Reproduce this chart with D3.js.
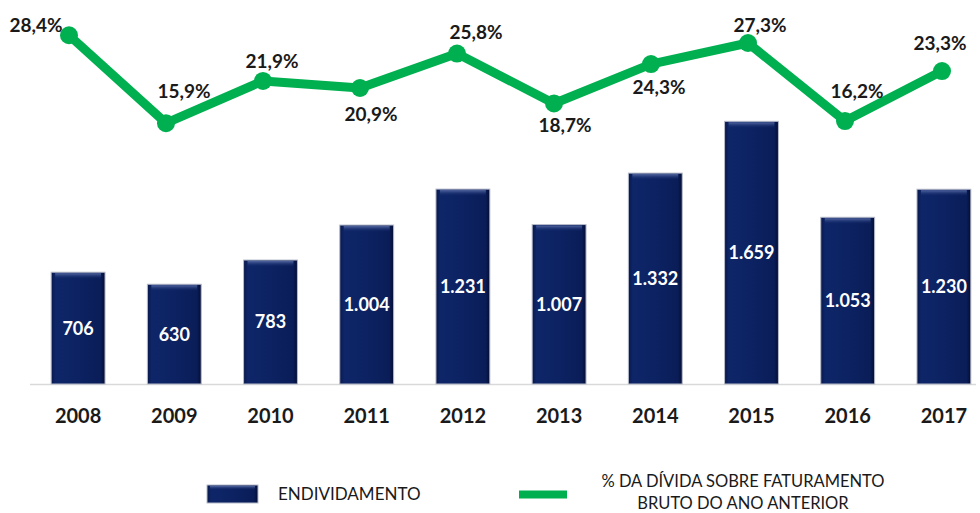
<!DOCTYPE html>
<html>
<head>
<meta charset="utf-8">
<script src="https://cdn.jsdelivr.net/npm/d3@7"></script>
<style>
  html, body { margin: 0; padding: 0; background: #fff; }
  svg { display: block; font-family: Lato, "Open Sans", sans-serif; }
</style>
</head>
<body>
<svg id="chart" width="980" height="513"></svg>
<script>
// ---- data ----
const years = ["2008","2009","2010","2011","2012","2013","2014","2015","2016","2017"];
const endividamento = [706, 630, 783, 1004, 1231, 1007, 1332, 1659, 1053, 1230];
const pctDivida = [28.4, 15.9, 21.9, 20.9, 25.8, 18.7, 24.3, 27.3, 16.2, 23.3];
const legendBar = "ENDIVIDAMENTO";
const legendLine = ["% DA DÍVIDA SOBRE FATURAMENTO", "BRUTO DO ANO ANTERIOR"];

// ---- layout (not data) ----
const labelOffsets = [[-33,-10],[18,-32],[9,-20],[11,26],[19,-21],[11,22],[8,23],[12,-18],[12,-30],[-2,-28]];

const svg = d3.select("#chart");
const loc = d3.formatLocale({decimal: ",", thousands: ".", grouping: [3], currency: ["R$", ""]});
const fmtInt = loc.format(",d");
const fmtPct = v => loc.format(".1f")(v) + "%";

const x = d3.scaleBand().domain(years).range([30, 992]).paddingInner(0.44).paddingOuter(0.22);
const xl = d3.scalePoint().domain(years).range([69, 942]);
const y = d3.scaleLinear().domain([0, 1800]).range([384, 99]);
const yl = d3.scaleLinear().domain([0, 30]).range([235, 24]);

// gradients
const defs = svg.append("defs");
const g1 = defs.append("linearGradient").attr("id", "barH").attr("x1", 0).attr("x2", 1).attr("y1", 0).attr("y2", 0);
[[0, "#08174a"], [0.08, "#0e2668"], [0.5, "#0c2262"], [0.92, "#0a1d58"], [1, "#040d32"]].forEach(s =>
  g1.append("stop").attr("offset", s[0]).attr("stop-color", s[1]));
const g2 = defs.append("linearGradient").attr("id", "barTop").attr("x1", 0).attr("x2", 0).attr("y1", 0).attr("y2", 1);
[[0, "#5b6fa8", 0.9], [1, "#0d2466", 0]].forEach(s =>
  g2.append("stop").attr("offset", s[0]).attr("stop-color", s[1]).attr("stop-opacity", s[2]));

// baseline
svg.append("line").attr("x1", 30).attr("x2", 976).attr("y1", y(0) + 0.5).attr("y2", y(0) + 0.5)
  .attr("stroke", "#d9d9d9").attr("stroke-width", 1.5);

// bars
const bars = svg.append("g").selectAll("g").data(years).join("g");
bars.append("rect")
  .attr("x", d => x(d)).attr("width", x.bandwidth())
  .attr("y", (d, i) => y(endividamento[i])).attr("height", (d, i) => y(0) - y(endividamento[i]))
  .attr("fill", "url(#barH)").attr("stroke", "#b8bccb").attr("stroke-width", 1);
bars.append("rect")
  .attr("x", d => x(d) + 4).attr("width", x.bandwidth() - 8)
  .attr("y", (d, i) => y(endividamento[i]) + 1).attr("height", 6)
  .attr("fill", "url(#barTop)");
bars.append("text")
  .attr("x", d => x(d) + x.bandwidth() / 2)
  .attr("y", (d, i) => (y(endividamento[i]) + y(0)) / 2)
  .attr("dy", "0.36em").attr("text-anchor", "middle")
  .attr("fill", "#fff").attr("font-weight", 700).attr("font-size", 18)
  .text((d, i) => fmtInt(endividamento[i]));

// year labels
svg.append("g").selectAll("text").data(years).join("text")
  .attr("x", d => x(d) + x.bandwidth() / 2).attr("y", 416).attr("dy", "0.36em")
  .attr("text-anchor", "middle").attr("font-weight", 700).attr("font-size", 20).attr("fill", "#1a1a1a")
  .text(d => d);

// line
const line = d3.line().x((d, i) => xl(years[i])).y(d => yl(d));
svg.append("path").datum(pctDivida).attr("d", line)
  .attr("fill", "none").attr("stroke", "#00b050").attr("stroke-width", 9).attr("stroke-linejoin", "round");
svg.append("g").selectAll("circle").data(pctDivida).join("circle")
  .attr("cx", (d, i) => xl(years[i])).attr("cy", d => yl(d)).attr("r", 9).attr("fill", "#00b050");
svg.append("g").selectAll("text").data(pctDivida).join("text")
  .attr("x", (d, i) => xl(years[i]) + labelOffsets[i][0])
  .attr("y", (d, i) => yl(d) + labelOffsets[i][1]).attr("dy", "0.36em")
  .attr("text-anchor", "middle").attr("font-weight", 700).attr("font-size", 19).attr("fill", "#1a1a1a")
  .text(d => fmtPct(d));

// legend
const lg = svg.append("g");
lg.append("rect").attr("x", 207).attr("y", 485).attr("width", 51).attr("height", 18)
  .attr("fill", "url(#barH)").attr("stroke", "#b8bccb");
lg.append("rect").attr("x", 210).attr("y", 486).attr("width", 45).attr("height", 4).attr("fill", "url(#barTop)");
lg.append("text").attr("x", 278).attr("y", 494).attr("dy", "0.36em")
  .attr("font-size", 17).attr("fill", "#1a1a1a").text(legendBar);
lg.append("line").attr("x1", 519).attr("x2", 567).attr("y1", 494.5).attr("y2", 494.5)
  .attr("stroke", "#00b050").attr("stroke-width", 8);
lg.selectAll("text.l2").data(legendLine).join("text").attr("class", "l2")
  .attr("x", 743).attr("y", (d, i) => 481 + i * 22).attr("dy", "0.36em").attr("text-anchor", "middle")
  .attr("font-size", 16.5).attr("fill", "#1a1a1a").text(d => d);
</script>
</body>
</html>
